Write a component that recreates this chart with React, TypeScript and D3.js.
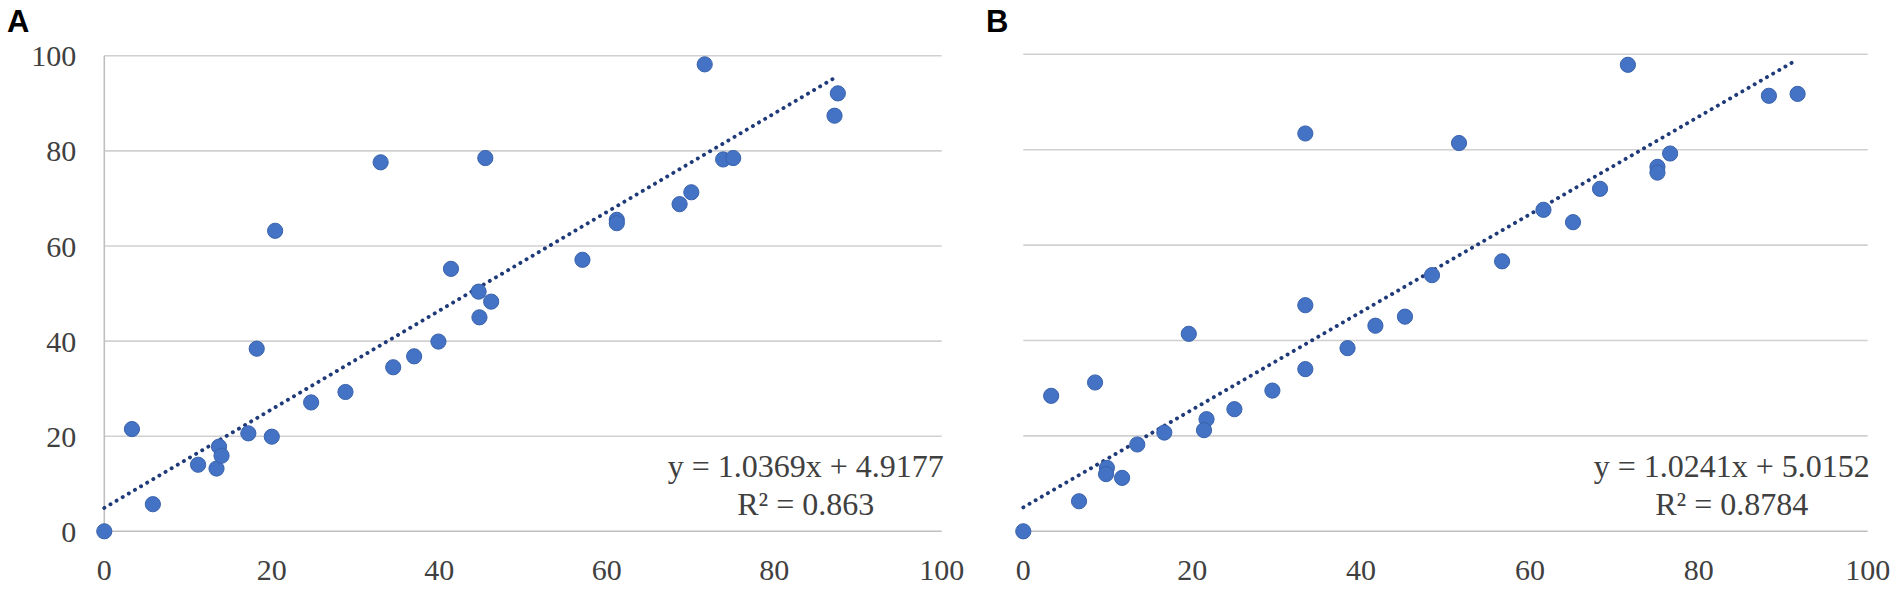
import React from 'react';
import * as d3 from 'd3';

// Panel A data
const aX = [0, 3.3, 5.8, 11.2, 13.4, 13.7, 14.0, 17.2, 18.2, 20.0, 20.4, 24.7, 28.8, 33.0, 34.5, 37.0, 39.9, 41.4, 44.8, 44.7, 45.5, 46.2, 57.1, 61.2, 61.2, 68.7, 70.1, 71.7, 73.9, 75.1, 87.2, 87.6];
const aY = [0, 21.5, 5.7, 14.0, 13.2, 17.8, 15.9, 20.6, 38.4, 19.9, 63.2, 27.1, 29.3, 77.6, 34.5, 36.8, 39.9, 55.2, 45.0, 50.4, 78.5, 48.3, 57.1, 65.5, 64.8, 68.8, 71.3, 98.2, 78.2, 78.5, 87.4, 92.1];

// Panel B data
const bX = [0, 3.3, 6.6, 8.5, 9.9, 9.8, 11.7, 13.5, 16.7, 19.6, 21.7, 21.4, 25.0, 29.5, 33.4, 33.4, 33.4, 38.4, 41.7, 45.2, 48.4, 51.6, 56.7, 61.6, 65.1, 68.3, 71.6, 75.1, 75.1, 76.6, 88.3, 91.7];
const bY = [0, 28.4, 6.3, 31.2, 13.3, 12.0, 11.2, 18.2, 20.7, 41.4, 23.5, 21.2, 25.6, 29.5, 34.0, 47.4, 83.4, 38.4, 43.1, 45.0, 53.7, 81.4, 56.6, 67.4, 64.8, 71.8, 97.8, 76.4, 75.2, 79.2, 91.3, 91.7];

// trendline coefficients (slope, intercept) and labels
const aFit = [1.0369, 4.9177];
const bFit = [1.0241, 5.0152];
const aEq = ['y = 1.0369x + 4.9177', 'R² = 0.863'];
const bEq = ['y = 1.0241x + 5.0152', 'R² = 0.8784'];

const ticks = [0, 20, 40, 60, 80, 100];

const serif = '"Liberation Serif", "Times New Roman", serif';

interface PanelProps {
  letter: string;
  xs: number[];
  ys: number[];
  fit: number[];
  eq: string[];
  xRange: [number, number];
  yRange: [number, number];
  yLabels: boolean;
  letterX: number;
}

function Panel({ letter, xs, ys, fit, eq, xRange, yRange, yLabels, letterX }: PanelProps) {
  const x = d3.scaleLinear().domain([0, 100]).range(xRange);
  const y = d3.scaleLinear().domain([0, 100]).range(yRange);

  const maxX = d3.max(xs) as number;
  const trend = d3.line<number>()
    .x(d => x(d))
    .y(d => y(fit[0] * d + fit[1]));

  const eqCenter = x(100) - 136;

  return (
    <g>
      <text x={letterX} y={32} fontFamily='"Liberation Sans", Arial, sans-serif'
        fontWeight="bold" fontSize={31} fill="#000">{letter}</text>

      {ticks.map(t => (
        <line key={'g' + t} x1={x(0)} x2={x(100)} y1={y(t)} y2={y(t)}
          stroke={t === 0 ? '#bfbfbf' : '#d0d0d0'} strokeWidth={1.6} />
      ))}
      {yLabels && (
        <line x1={x(0)} x2={x(0)} y1={y(100)} y2={y(0)} stroke="#bfbfbf" strokeWidth={1.6} />
      )}

      {yLabels && ticks.map(t => (
        <text key={'yl' + t} x={x(0) - 28} y={y(t)} dy="0.35em" textAnchor="end"
          fontFamily={serif} fontSize={30} fill="#404040">{t}</text>
      ))}
      {ticks.map(t => (
        <text key={'xl' + t} x={x(t)} y={580} textAnchor="middle"
          fontFamily={serif} fontSize={30} fill="#404040">{t}</text>
      ))}

      <path d={trend([0, maxX]) || ''} fill="none" stroke="#1f3a78" strokeWidth={3.9}
        strokeDasharray="0.1 7" strokeLinecap="round" />

      {xs.map((v, i) => (
        <circle key={'p' + i} cx={x(v)} cy={y(ys[i])} r={7.6}
          fill="#4472c4" stroke="#3a63ad" strokeWidth={1} />
      ))}

      <text x={eqCenter} y={476.7} textAnchor="middle" fontFamily={serif} fontSize={32} fill="#404040">{eq[0]}</text>
      <text x={eqCenter} y={515} textAnchor="middle" fontFamily={serif} fontSize={32} fill="#404040">{eq[1]}</text>
    </g>
  );
}

export default function App() {
  return (
    <svg width={1901} height={596} style={{ position: 'absolute', left: 0, top: 0, background: '#fff' }}>
      <rect width={1901} height={596} fill="#fff" />
      <Panel letter="A" xs={aX} ys={aY} fit={aFit} eq={aEq}
        xRange={[104.3, 941.7]} yRange={[531.3, 55.8]} yLabels={true} letterX={7} />
      <Panel letter="B" xs={bX} ys={bY} fit={bFit} eq={bEq}
        xRange={[1023.3, 1867.7]} yRange={[531.3, 54.3]} yLabels={false} letterX={986} />
    </svg>
  );
}
